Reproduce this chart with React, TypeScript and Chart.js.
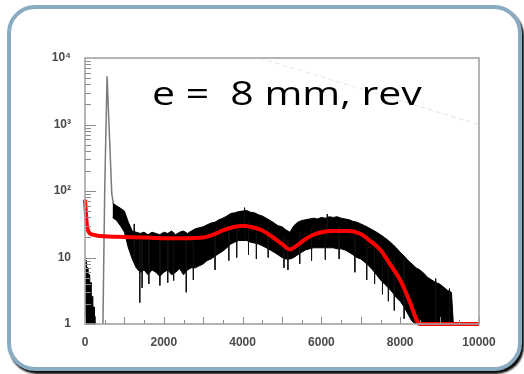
import React, { useEffect, useRef } from "react";
import { Chart, registerables } from "chart.js";

Chart.register(...registerables);

// ---- data ----
const xTickValues = [0, 2000, 4000, 6000, 8000, 10000];
const yTickValues = [1, 10, 100, 1000, 10000];
const yTickLabels = ["1", "10", "10²", "10³", "10⁴"];

// measured spectrum: envelope of the noisy black histogram
const histX = [
  700, 800, 900, 1000, 1100, 1200, 1300, 1400, 1500, 1600, 1700, 1800, 1900, 2000,
  2100, 2200, 2300, 2400, 2500, 2600, 2700, 2800, 2900, 3000, 3100, 3200, 3300, 3400,
  3500, 3600, 3700, 3800, 3900, 4000, 4100, 4200, 4300, 4400, 4500, 4600, 4700, 4800,
  4900, 5000, 5100, 5200, 5300, 5400, 5500, 5600, 5700, 5800, 5900, 6000, 6100, 6200,
  6300, 6400, 6500, 6600, 6700, 6800, 6900, 7000, 7100, 7200, 7300, 7400, 7500, 7600,
  7700, 7800, 7900, 8000, 8100, 8200, 8300, 8400, 8500, 8600, 8700, 8800, 8900, 9000,
  9100, 9200, 9300, 9350,
];
const histUpper = [
  66, 60, 55, 50, 34, 25, 24, 23, 24, 22, 24, 23, 22, 24,
  23, 25, 22, 24, 25, 23, 25, 27, 28, 29, 31, 33, 34, 37,
  39, 42, 46, 47, 49, 50, 51, 48, 47, 44, 42, 39, 36, 33,
  30, 29, 26, 24, 30, 34, 36, 37, 38, 39, 38, 40, 39, 41,
  40, 41, 39, 38, 37, 35, 34, 32, 30, 28, 26, 24, 22, 20,
  18, 16, 14, 12, 10.5, 9, 8, 7, 6.5, 5.8, 5, 4.6, 4.2, 4,
  3.6, 3.2, 3, 1,
];
const histLower = [
  40, 36, 30, 24, 14, 9.5, 7, 6, 6.5, 5.5, 6.5, 6, 5.2, 6,
  6.5, 5.5, 6, 6.8, 5.5, 6.5, 7, 7, 7.5, 8, 9, 9.5, 10.5, 11.5,
  12.5, 14, 16, 17, 18, 18, 18, 17, 16.5, 16, 15, 14, 13, 12,
  11, 10, 9.5, 9.5, 10, 11, 12, 13, 13.5, 14, 14, 14, 14, 14,
  14, 13.5, 13.5, 13, 12, 11, 10, 9.5, 8.5, 7.5, 6.5, 5.5, 4.6, 4,
  3.5, 3, 2.5, 2.2, 1.8, 1.4, 1.1, 1, 1, 1, 1, 1, 1, 1,
  1, 1, 1, 1,
];

// single noisy bins that stick out of the band
const spikeX = [
  1250, 1390, 1450, 1620, 1900, 2100, 2250, 2570, 2750, 3300, 3650, 3850, 4050, 4150,
  4350, 4650, 5050, 5150, 5450, 5750, 6100, 6150, 6450, 6850, 7150, 7350, 7550, 7700,
  7850, 8100, 8900, 9250,
];
const spikeLow = [
  9, 2.1, 3.5, 4, 3.8, 4.2, 4.5, 3, 4.6, 6.5, 9, 10, 20, 11,
  9.5, 10, 7, 6.5, 8, 9, 9.3, 20, 9.5, 6, 4.6, 4, 2.8, 2.2,
  1.6, 1.2, 1, 1,
];
const spikeHigh = [
  32, 20, 20, 20, 20, 20, 20, 20, 22, 25, 30, 32, 56, 35,
  32, 28, 20, 18, 24, 28, 30, 45, 30, 25, 20, 18, 14, 12,
  10, 9, 4.8, 3.4,
];

// low-energy part near zero
const lowX = [0, 40, 80, 120, 160, 200, 240, 260];
const lowY = [9, 7, 5.5, 4.2, 2.6, 1.8, 1.3, 1];

// narrow grey peak
const peakX = [455, 500, 560, 680, 720];
const peakY = [1, 100, 5300, 90, 65];

// red fitted / simulated curve
const fitX = [
  0, 20, 50, 100, 200, 400, 800, 1500, 2000, 2500, 3000, 3250, 3500, 3750, 4000, 4250,
  4500, 4750, 5000, 5200, 5400, 5600, 5800, 6000, 6300, 6700, 7000, 7250, 7500, 7750,
  8000, 8250, 8450, 8500, 10000,
];
const fitY = [
  74, 50, 30, 24, 22, 21, 20.5, 20, 19.5, 19.5, 20, 22, 25.5, 28.5, 30, 28.5,
  25.5, 20.5, 16, 13.2, 15.5, 19, 22, 24, 25, 25, 22.5, 17.5, 13, 7.8,
  4.6, 2.1, 1.05, 1, 1,
];

// faint dashed guide line in the top right
const guideX = [4430, 10000];
const guideY = [10000, 1000];

const pts = (xs: number[], ys: number[]) => xs.map((x, i) => ({ x, y: ys[i] }));

const spikePts = () => {
  const out: { x: number; y: number }[] = [];
  spikeX.forEach((x, i) => {
    out.push({ x, y: spikeHigh[i] });
    out.push({ x, y: spikeLow[i] });
    out.push({ x, y: NaN });
  });
  return out;
};

const frameTicks = {
  id: "frameTicks",
  afterDatasetsDraw(chart: any) {
    const { ctx, chartArea: a, scales } = chart;
    const x = scales.x;
    const y = scales.y;
    ctx.save();
    ctx.strokeStyle = "#8c8c8c";
    ctx.lineWidth = 1;
    ctx.beginPath();
    for (let v = 0; v <= 10000; v += 500) {
      const px = Math.round(x.getPixelForValue(v)) + 0.5;
      const len = v % 1000 === 0 ? 7 : 4;
      ctx.moveTo(px, a.bottom);
      ctx.lineTo(px, a.bottom - len);
    }
    for (let d = 1; d < 10000; d *= 10) {
      for (let k = 1; k < 10; k++) {
        const py = Math.round(y.getPixelForValue(k * d)) + 0.5;
        const len = k === 1 ? 11 : 6;
        ctx.moveTo(a.left, py);
        ctx.lineTo(a.left + len, py);
      }
    }
    ctx.stroke();
    ctx.strokeStyle = "#a3a3a3";
    ctx.lineWidth = 1.6;
    ctx.strokeRect(a.left, a.top, a.right - a.left, a.bottom - a.top);
    ctx.restore();
  },
};

export default function App() {
  const ref = useRef<HTMLCanvasElement | null>(null);

  useEffect(() => {
    if (!ref.current) return;
    const chart = new Chart(ref.current, {
      type: "line",
      data: {
        datasets: [
          {
            label: "guide",
            data: pts(guideX, guideY),
            borderColor: "#e4e4e4",
            borderWidth: 1,
            borderDash: [5, 3],
            pointRadius: 0,
            fill: false,
            order: 7,
          },
          {
            label: "upper",
            data: pts(histX, histUpper),
            borderColor: "#000000",
            backgroundColor: "#000000",
            borderWidth: 1,
            pointRadius: 0,
            fill: "+1",
            order: 6,
          },
          {
            label: "lower",
            data: pts(histX, histLower),
            borderColor: "#000000",
            borderWidth: 1,
            pointRadius: 0,
            fill: false,
            order: 5,
          },
          {
            label: "spikes",
            data: spikePts(),
            borderColor: "#111111",
            borderWidth: 1,
            pointRadius: 0,
            spanGaps: false,
            fill: false,
            order: 4,
          },
          {
            label: "low",
            data: pts(lowX, lowY),
            borderColor: "#000000",
            backgroundColor: "#000000",
            borderWidth: 1,
            pointRadius: 0,
            stepped: true,
            fill: "start",
            order: 3,
          },
          {
            label: "peak",
            data: pts(peakX, peakY),
            borderColor: "#7a7a7a",
            borderWidth: 1.5,
            pointRadius: 0,
            fill: false,
            order: 2,
          },
          {
            label: "fit",
            data: pts(fitX, fitY),
            borderColor: "#ff0000",
            borderWidth: 4,
            pointRadius: 0,
            tension: 0.3,
            cubicInterpolationMode: "monotone",
            fill: false,
            clip: 6,
            order: 0,
          },
        ],
      },
      options: {
        responsive: false,
        animation: false,
        layout: { padding: { left: 0, right: 45, top: 58, bottom: 0 } },
        plugins: {
          legend: { display: false },
          tooltip: { enabled: false },
          title: { display: false },
        },
        scales: {
          x: {
            type: "linear",
            min: 0,
            max: 10000,
            grid: { display: false },
            border: { display: false },
            afterBuildTicks: (s: any) => {
              s.ticks = xTickValues.map((v) => ({ value: v }));
            },
            afterFit: (s: any) => {
              s.height = 50;
            },
            ticks: {
              autoSkip: false,
              maxRotation: 0,
              padding: 3,
              color: "#4a4a4a",
              font: { family: "Liberation Sans", size: 12, weight: "bold" },
              callback: (v: any) => String(v),
            },
          },
          y: {
            type: "logarithmic",
            min: 1,
            max: 10000,
            grid: { display: false },
            border: { display: false },
            afterBuildTicks: (s: any) => {
              s.ticks = yTickValues.map((v) => ({ value: v }));
            },
            afterFit: (s: any) => {
              s.width = 85;
            },
            ticks: {
              autoSkip: false,
              padding: 6,
              color: "#4a4a4a",
              font: { family: "Liberation Sans", size: 12, weight: "bold" },
              callback: (v: any) => {
                const i = yTickValues.indexOf(Number(v));
                return i >= 0 ? yTickLabels[i] : "";
              },
            },
          },
        },
      } as any,
      plugins: [frameTicks],
    });
    return () => chart.destroy();
  }, []);

  return (
    <div style={{ position: "absolute", left: 0, top: 0, width: 524, height: 374, background: "#fff", overflow: "hidden" }}>
      <div
        style={{
          position: "absolute",
          left: 7,
          top: 5,
          width: 515,
          height: 366,
          boxSizing: "border-box",
          border: "4px solid #8aacc2",
          borderRadius: 28,
          background: "#fff",
          boxShadow: "2px 3px 2px rgba(0,0,0,0.95)",
        }}
      />
      <canvas ref={ref} width={524} height={374} style={{ position: "absolute", left: 0, top: 0, width: 524, height: 374 }} />
      <div
        style={{
          position: "absolute",
          left: 152,
          top: 77,
          fontFamily: "'Open Sans', 'Noto Sans', sans-serif",
          fontSize: 32,
          lineHeight: "32px",
          color: "#000",
          whiteSpace: "pre",
          transform: "scaleX(1.28)",
          transformOrigin: "left top",
        }}
      >
        {"e =  8 mm, rev"}
      </div>
    </div>
  );
}
